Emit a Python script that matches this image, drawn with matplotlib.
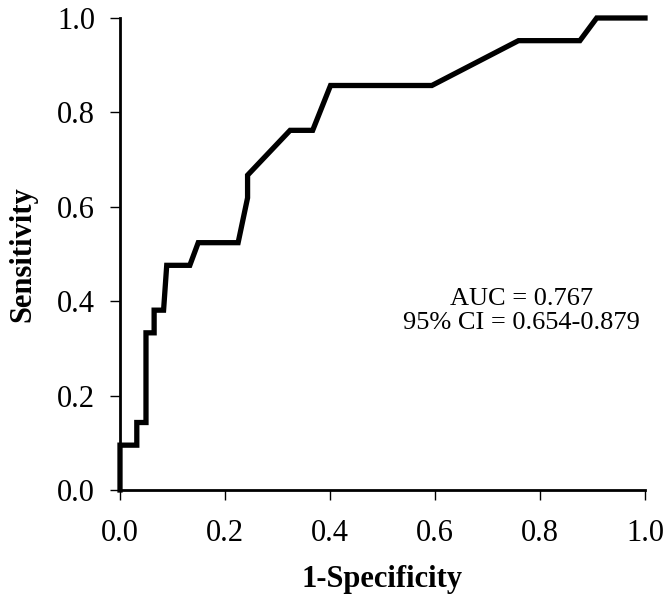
import matplotlib
matplotlib.use("Agg")
import matplotlib.pyplot as plt

plt.rcParams['font.family'] = ['Liberation Serif', 'DejaVu Serif']

# ROC curve points
fpr = [0, 0, 0.032, 0.032, 0.0495, 0.0495, 0.065, 0.065, 0.083, 0.089, 0.133, 0.149,
       0.225, 0.243, 0.243, 0.324, 0.367, 0.401, 0.594, 0.759, 0.876, 0.908, 1.0]
tpr = [0, 0.095, 0.095, 0.143, 0.143, 0.333, 0.333, 0.381, 0.381, 0.476, 0.476, 0.524,
       0.524, 0.619, 0.667, 0.762, 0.762, 0.857, 0.857, 0.952, 0.952, 1.0, 1.0]
ticks = [0.0, 0.2, 0.4, 0.6, 0.8, 1.0]
tick_labels = ['0.0', '0.2', '0.4', '0.6', '0.8', '1.0']

fig = plt.figure(figsize=(6.72, 6.05), dpi=100)
ax = fig.add_axes([120/672, 1-490/605, 525/672, 472/605])

ax.plot(fpr, tpr, color='black', lw=3.8, solid_joinstyle='miter', clip_on=False)

ax.set_xlim(0, 1)
ax.set_ylim(0, 1)
ax.set_xticks(ticks)
ax.set_xticklabels(tick_labels)
ax.set_yticks(ticks)
ax.set_yticklabels(tick_labels)
ax.tick_params(direction='out', length=7, width=1, labelsize=22)
ax.tick_params(axis='x', pad=14)
ax.tick_params(axis='y', pad=11)
ax.spines['top'].set_visible(False)
ax.spines['right'].set_visible(False)
for s in ['left', 'bottom']:
    ax.spines[s].set_linewidth(2)

ax.set_xlabel('1-Specificity', fontsize=22, fontweight='bold', labelpad=12)
ax.set_ylabel('Sensitivity', fontsize=22, fontweight='bold', labelpad=14)

ax.text(0.765, 0.379, 'AUC = 0.767\n95% CI = 0.654-0.879', fontsize=19,
        ha='center', va='center', linespacing=1.1)

fig.savefig('out.png', dpi=100)
